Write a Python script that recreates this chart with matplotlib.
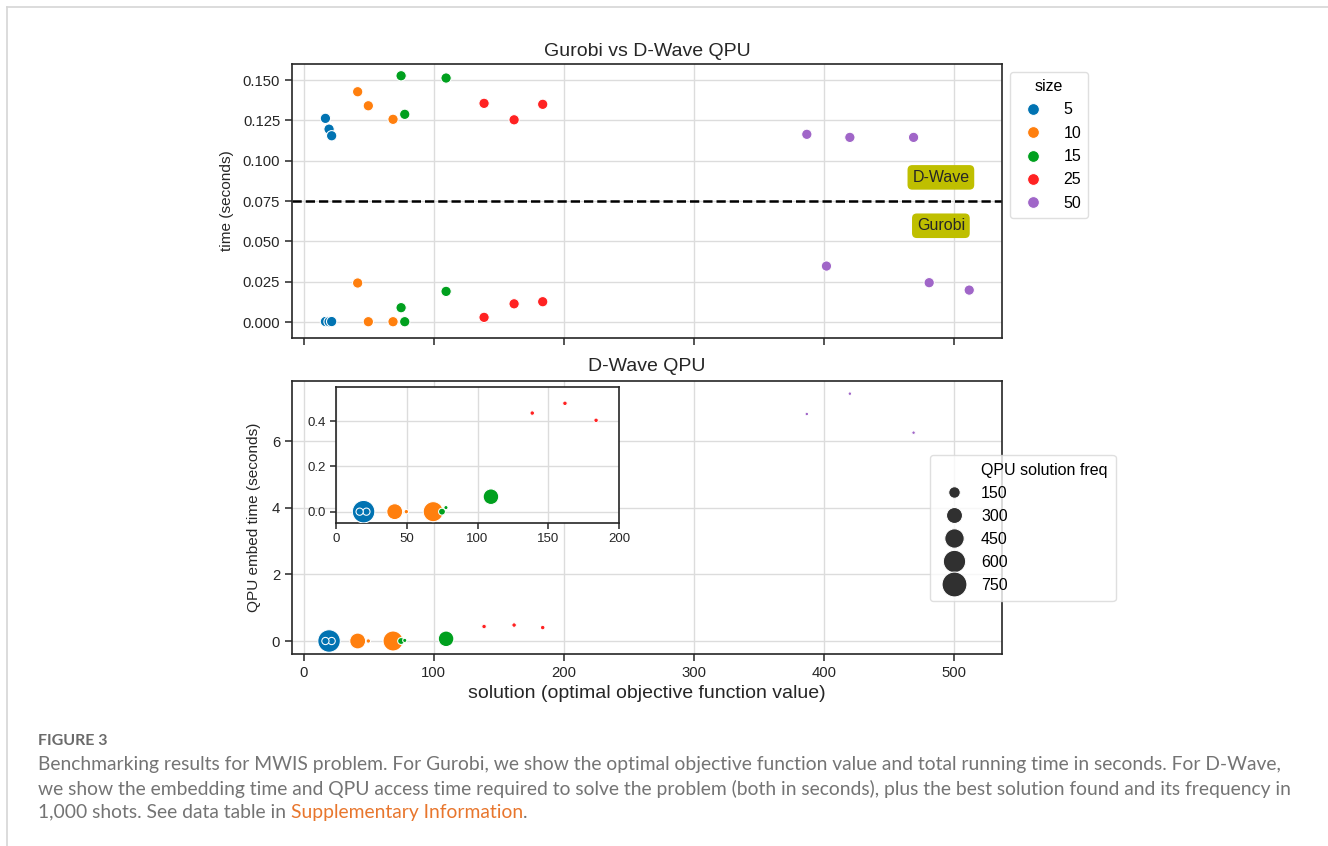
import numpy as np
import matplotlib.pyplot as plt
from matplotlib.lines import Line2D

plt.rcParams['font.family'] = ['Liberation Sans', 'DejaVu Sans']

# data (3 instances per problem size)
problem_size = [5, 5, 5, 10, 10, 10, 15, 15, 15, 25, 25, 25, 50, 50, 50]
gurobi_obj = [16.7, 19.5, 21.5, 41.5, 49.7, 68.7, 74.9, 77.7, 109.5, 138.7, 161.8, 183.8, 402.0, 481.0, 511.8]
gurobi_time = [0.0003, 0.0002, 0.0003, 0.0242, 0.0002, 0.0002, 0.0089, 0.0002, 0.0190,
               0.0029, 0.0113, 0.0126, 0.0347, 0.0244, 0.0198]
dwave_obj = [16.7, 19.5, 21.5, 41.5, 49.7, 68.7, 74.9, 77.7, 109.5, 138.7, 161.8, 183.8, 386.9, 420.0, 469.0]
dwave_qpu_time = [0.1263, 0.1196, 0.1155, 0.1428, 0.1341, 0.1257, 0.1527, 0.1288, 0.1513,
                  0.1356, 0.1254, 0.1350, 0.1164, 0.1145, 0.1145]
embed_time = [0.0, 0.0, 0.0, 0.0, 0.0, 0.0, 0.0, 0.018, 0.066, 0.435, 0.478, 0.403, 6.81, 7.42, 6.25]
qpu_freq = [50, 610, 50, 296, 10, 480, 44, 7, 284, 11, 11, 11, 1, 1, 1]

size_levels = [5, 10, 15, 25, 50]
size_colors = ['#0173b2', '#ff7f0e', '#00a01e', '#ff2222', '#a066c8']
freq_legend = [150, 300, 450, 600, 750]
threshold = 0.075

caption_lines = [
    "Benchmarking results for MWIS problem. For Gurobi, we show the optimal objective function value and total running time in seconds. For D-Wave,",
    "we show the embedding time and QPU access time required to solve the problem (both in seconds), plus the best solution found and its frequency in",
    "1,000 shots. See data table in ",
]

W, H = 1328, 846
fig = plt.figure(figsize=(W / 100, H / 100), dpi=100)
TXT = '#262626'


def box(l, t, r, b):
    return [l / W, 1 - b / H, (r - l) / W, (b - t) / H]


def style(ax, lsize=10.7):
    ax.grid(True, color='#dcdcdc', lw=1)
    ax.set_axisbelow(True)
    for s in ax.spines.values():
        s.set_color(TXT)
        s.set_linewidth(1.2)
    ax.tick_params(direction='out', length=5, width=1.1, color=TXT,
                   labelsize=lsize, labelcolor=TXT)


def freq_to_s(f):
    return 0.42 * np.asarray(f, dtype=float) + 6


col = {k: c for k, c in zip(size_levels, size_colors)}
cols = [col[k] for k in problem_size]

# ---- top: Gurobi vs D-Wave QPU
ax1 = fig.add_axes(box(292, 64, 1002, 338))
style(ax1)
ax1.scatter(gurobi_obj, gurobi_time, c=cols, s=55, edgecolor='white', lw=0.75, zorder=3)
ax1.scatter(dwave_obj, dwave_qpu_time, c=cols, s=55, edgecolor='white', lw=0.75, zorder=3)
ax1.axhline(threshold, color='black', ls='--', lw=1.8, zorder=2)
ax1.set_xlim(-9, 537)
ax1.set_ylim(-0.0099, 0.160)
ax1.set_xticks([0, 100, 200, 300, 400, 500])
ax1.set_xticklabels([])
ax1.set_yticks(np.arange(0, 0.151, 0.025))
ax1.set_yticklabels(['%.3f' % v for v in np.arange(0, 0.151, 0.025)])
ax1.set_ylabel('time (seconds)', fontsize=11.1, color=TXT, labelpad=6)
ax1.set_title('Gurobi vs D-Wave QPU', fontsize=14, color=TXT, pad=6)
tag = dict(boxstyle='round,pad=0.3', fc=(0.75, 0.75, 0), ec='none')
ax1.text(490, 0.0897, 'D-Wave', ha='center', va='center', fontsize=11.5, color=TXT, bbox=tag)
ax1.text(490, 0.0597, 'Gurobi', ha='center', va='center', fontsize=11.5, color=TXT, bbox=tag)

h1 = [Line2D([], [], ls='', marker='o', ms=8.5, mfc=c, mec='white', mew=0.75) for c in size_colors]
leg1 = fig.legend(h1, [str(k) for k in size_levels], title='size', loc='upper left',
                  bbox_to_anchor=(1010 / W, 1 - 72 / H), fontsize=11.5, title_fontsize=11.5,
                  frameon=True, edgecolor='#d8d8d8', handletextpad=0.9, labelspacing=0.52,
                  borderpad=0.45, borderaxespad=0)
leg1.get_frame().set_linewidth(1.0)

# ---- bottom: D-Wave QPU embed time
order = np.argsort(qpu_freq)[::-1]
bx = np.array(dwave_obj)[order]
by = np.array(embed_time)[order]
bs = freq_to_s(np.array(qpu_freq)[order])
bc = [cols[i] for i in order]

ax2 = fig.add_axes(box(292, 381, 1002, 654))
style(ax2)
ax2.scatter(bx, by, c=bc, s=bs, edgecolor='white', lw=0.75, zorder=3)
ax2.set_xlim(-9, 537)
ax2.set_ylim(-0.39, 7.8)
ax2.set_xticks([0, 100, 200, 300, 400, 500])
ax2.set_yticks([0, 2, 4, 6])
ax2.set_ylabel('QPU embed time (seconds)', fontsize=11.1, color=TXT, labelpad=8)
ax2.set_xlabel('solution (optimal objective function value)', fontsize=14, color=TXT, labelpad=4)
ax2.set_title('D-Wave QPU', fontsize=14, color=TXT, pad=7)

h2 = [Line2D([], [], ls='', marker='')]
h2 += [Line2D([], [], ls='', marker='o', ms=np.sqrt(freq_to_s(f)), mfc='#303030', mec='white', mew=0.75)
       for f in freq_legend]
leg2 = fig.legend(h2, ['QPU solution freq'] + [str(f) for f in freq_legend], loc='upper left',
                  bbox_to_anchor=(930 / W, 1 - 455 / H), fontsize=11.5, frameon=True,
                  edgecolor='#d8d8d8', handletextpad=0.7, labelspacing=0.5, borderpad=0.5,
                  borderaxespad=0)
leg2.get_frame().set_linewidth(1.0)

# inset zoom on small problems
ax3 = fig.add_axes(box(336, 387, 619, 523))
style(ax3, lsize=9.5)
ax3.scatter(bx, by, c=bc, s=bs, edgecolor='white', lw=0.75, zorder=3)
ax3.set_xlim(0, 200)
ax3.set_ylim(-0.05, 0.55)
ax3.set_xticks([0, 50, 100, 150, 200])
ax3.set_yticks([0.0, 0.2, 0.4])
ax3.tick_params(length=4)

# ---- page frame and caption
fig.add_artist(Line2D([7 / W, 7 / W], [0, 1 - 7 / H], transform=fig.transFigure, color='#d6d6d6', lw=1.2))
fig.add_artist(Line2D([7 / W, 1], [1 - 7 / H, 1 - 7 / H], transform=fig.transFigure, color='#d6d6d6', lw=1.2))

cap_font = ['Lato', 'DejaVu Sans']
fig.text(38 / W, 1 - 741 / H, 'FIGURE 3', fontsize=11.5, fontweight='bold', color='#6a6a6a',
         family=cap_font, va='center')

renderer = fig.canvas.get_renderer()
probe = fig.text(0, 0, caption_lines[1], fontsize=10, family=cap_font)
wpx = probe.get_window_extent(renderer).width
probe.remove()
cap_size = 10 * (1297 - 38) / wpx

line_y = [764, 789, 812]
last = None
for txt, yy in zip(caption_lines, line_y):
    last = fig.text(38 / W, 1 - yy / H, txt, fontsize=cap_size, color='#747474', family=cap_font,
                    va='center')
x_end = last.get_window_extent(renderer).x1
link = fig.text(x_end / W, 1 - 812 / H, 'Supplementary Information', fontsize=cap_size,
                color='#e8762d', family=cap_font, va='center')
x_end2 = link.get_window_extent(renderer).x1
fig.text(x_end2 / W, 1 - 812 / H, '.', fontsize=cap_size, color='#747474', family=cap_font,
         va='center')

fig.savefig('out.png', dpi=100, facecolor='white')
